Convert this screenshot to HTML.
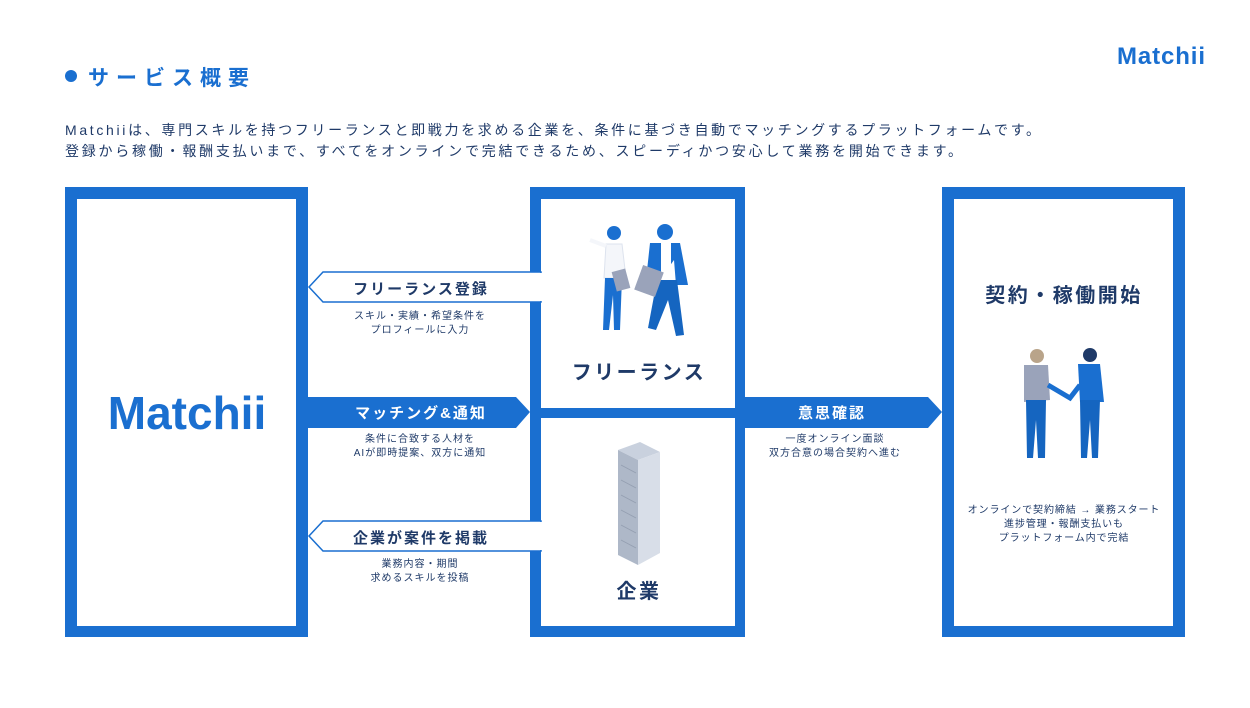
<!DOCTYPE html>
<html><head><meta charset="utf-8"><style>
html,body{margin:0;padding:0;background:#fff;}
body{width:1250px;height:703px;overflow:hidden;font-family:"Liberation Sans","Noto Sans CJK JP",sans-serif;}
svg text{font-family:"Liberation Sans","Noto Sans CJK JP",sans-serif;}
</style></head><body>
<svg width="1250" height="703" viewBox="0 0 1250 703" xmlns="http://www.w3.org/2000/svg">
<rect width="1250" height="703" fill="#fff"/>
<!-- header -->
<text x="1117" y="64" font-size="24" font-weight="bold" fill="#1a6fd0" textLength="88">Matchii</text>
<circle cx="71" cy="76" r="6" fill="#1a6fd0"/>
<text x="88" y="85" font-size="21" font-weight="bold" fill="#1a6fd0" letter-spacing="7">サービス概要</text>
<text x="65" y="135" font-size="14" fill="#1f3a68" textLength="975">Matchiiは、専門スキルを持つフリーランスと即戦力を求める企業を、条件に基づき自動でマッチングするプラットフォームです。</text>
<text x="65" y="156" font-size="14" fill="#1f3a68" textLength="897">登録から稼働・報酬支払いまで、すべてをオンラインで完結できるため、スピーディかつ安心して業務を開始できます。</text>

<!-- left box -->
<rect x="65" y="187" width="243" height="450" fill="#1a6fd0"/>
<rect x="77" y="199" width="219" height="427" fill="#fff"/>
<text x="187" y="429" font-size="46" font-weight="bold" fill="#1a6fd0" text-anchor="middle">Matchii</text>

<!-- middle box -->
<rect x="530" y="187" width="215" height="450" fill="#1a6fd0"/>
<rect x="541" y="199" width="194" height="209" fill="#fff"/>
<rect x="541" y="418" width="194" height="208" fill="#fff"/>
<text x="639" y="379" font-size="20" font-weight="bold" fill="#1f3a68" text-anchor="middle" letter-spacing="2.5">フリーランス</text>
<text x="639" y="598" font-size="20" font-weight="bold" fill="#1f3a68" text-anchor="middle" letter-spacing="2.5">企業</text>

<!-- right box -->
<rect x="942" y="187" width="243" height="450" fill="#1a6fd0"/>
<rect x="954" y="199" width="219" height="427" fill="#fff"/>
<text x="1064" y="302" font-size="20" font-weight="bold" fill="#1f3a68" text-anchor="middle" letter-spacing="2.5">契約・稼働開始</text>
<text x="1064" y="513" font-size="10" fill="#1f3a68" text-anchor="middle" letter-spacing="0.9">オンラインで契約締結 → 業務スタート</text>
<text x="1064" y="527" font-size="10" fill="#1f3a68" text-anchor="middle" letter-spacing="0.9">進捗管理・報酬支払いも</text>
<text x="1064" y="541" font-size="10" fill="#1f3a68" text-anchor="middle" letter-spacing="0.9">プラットフォーム内で完結</text>

<!-- arrows -->
<polygon points="541,272 323,272 309,287 323,302 541,302" fill="#fff" stroke="#1a6fd0" stroke-width="1.5"/>
<rect x="540" y="273" width="2" height="28" fill="#fff"/>
<text x="421" y="294" font-size="15" font-weight="bold" fill="#1f3a68" text-anchor="middle" letter-spacing="2">フリーランス登録</text>
<text x="420" y="319" font-size="10" fill="#1f3a68" text-anchor="middle" letter-spacing="1">スキル・実績・希望条件を</text>
<text x="420" y="333" font-size="10" fill="#1f3a68" text-anchor="middle" letter-spacing="1">プロフィールに入力</text>

<polygon points="308,397 516,397 530,412 516,428 308,428" fill="#1a6fd0"/>
<text x="421" y="418" font-size="15" font-weight="bold" fill="#fff" text-anchor="middle" letter-spacing="2">マッチング&amp;通知</text>
<text x="420" y="442" font-size="10" fill="#1f3a68" text-anchor="middle" letter-spacing="1">条件に合致する人材を</text>
<text x="420" y="456" font-size="10" fill="#1f3a68" text-anchor="middle" letter-spacing="1">AIが即時提案、双方に通知</text>

<polygon points="541,521 323,521 309,536 323,551 541,551" fill="#fff" stroke="#1a6fd0" stroke-width="1.5"/>
<rect x="540" y="522" width="2" height="28" fill="#fff"/>
<text x="421" y="543" font-size="15" font-weight="bold" fill="#1f3a68" text-anchor="middle" letter-spacing="2">企業が案件を掲載</text>
<text x="420" y="567" font-size="10" fill="#1f3a68" text-anchor="middle" letter-spacing="1">業務内容・期間</text>
<text x="420" y="581" font-size="10" fill="#1f3a68" text-anchor="middle" letter-spacing="1">求めるスキルを投稿</text>

<polygon points="745,397 928,397 942,412 928,428 745,428" fill="#1a6fd0"/>
<text x="832" y="418" font-size="15" font-weight="bold" fill="#fff" text-anchor="middle" letter-spacing="2">意思確認</text>
<text x="835" y="442" font-size="10" fill="#1f3a68" text-anchor="middle" letter-spacing="1">一度オンライン面談</text>
<text x="835" y="456" font-size="10" fill="#1f3a68" text-anchor="middle" letter-spacing="1">双方合意の場合契約へ進む</text>

<!-- freelancers illustration -->
<g>
 <circle cx="614" cy="233" r="7" fill="#1a6fd0"/>
 <path d="M606 244 L622 244 L626 278 L604 278 Z" fill="#f4f6fa" stroke="#dde3ee"/>
 <path d="M606 246 L590 240" stroke="#f4f6fa" stroke-width="4"/>
 <path d="M605 278 L622 278 L620 330 L614 330 L613 295 L609 330 L603 330 Z" fill="#1a6fd0"/>
 <rect x="614" y="270" width="14" height="20" fill="#9aa3ba" transform="rotate(-15 621 280)"/>
 <circle cx="665" cy="232" r="8" fill="#1a6fd0"/>
 <path d="M650 243 L680 243 L688 285 L676 285 L674 260 L656 285 L646 280 Z" fill="#1a6fd0"/>
 <rect x="661" y="243" width="10" height="35" fill="#fff"/>
 <path d="M657 280 L677 280 L684 335 L676 336 L668 300 L656 330 L648 328 Z" fill="#1565c0"/>
 <rect x="638" y="268" width="22" height="26" fill="#9aa3ba" transform="rotate(20 649 281)"/>
</g>
<!-- building -->
<g>
 <polygon points="618,450 640,442 660,452 638,460" fill="#c9d1de"/>
 <polygon points="618,450 638,460 638,565 618,555" fill="#aeb8c8"/>
 <polygon points="638,460 660,452 660,553 638,565" fill="#d8dee8"/>
 <g stroke="#8a95a8" stroke-width="0.8" opacity="0.7">
  <line x1="621" y1="465" x2="636" y2="473"/><line x1="621" y1="480" x2="636" y2="488"/><line x1="621" y1="495" x2="636" y2="503"/><line x1="621" y1="510" x2="636" y2="518"/><line x1="621" y1="525" x2="636" y2="533"/><line x1="621" y1="540" x2="636" y2="548"/>
 </g>
</g>
<!-- handshake -->
<g>
 <circle cx="1037" cy="356" r="7" fill="#b9a48a"/>
 <path d="M1024 365 L1048 365 L1050 400 L1024 402 Z" fill="#9aa3ba"/>
 <path d="M1026 400 L1046 400 L1045 458 L1038 458 L1036 420 L1033 458 L1027 458 Z" fill="#1565c0"/>
 <circle cx="1090" cy="355" r="7" fill="#1f3a68"/>
 <path d="M1078 364 L1100 364 L1104 402 L1080 402 Z" fill="#1a6fd0"/>
 <path d="M1048 385 L1070 398 L1080 385" stroke="#1a6fd0" stroke-width="5" fill="none"/>
 <path d="M1080 400 L1100 400 L1098 458 L1092 458 L1090 420 L1087 458 L1081 458 Z" fill="#1565c0"/>
</g>
</svg>
</body></html>
